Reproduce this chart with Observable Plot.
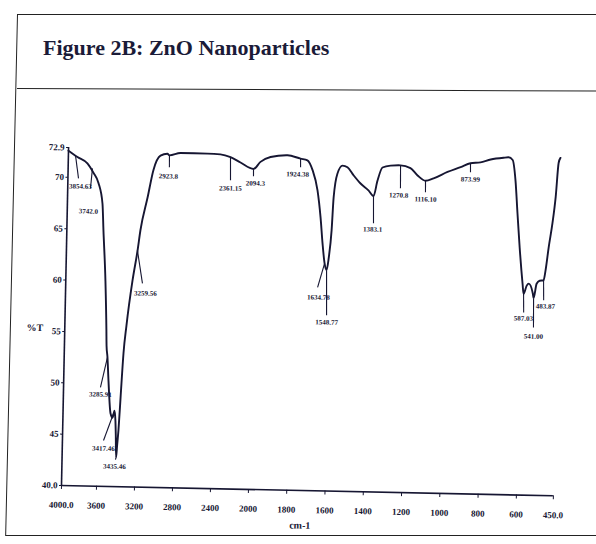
<!DOCTYPE html>
<html><head><meta charset="utf-8">
<script src="https://cdn.jsdelivr.net/npm/d3@7"></script>
<script src="https://cdn.jsdelivr.net/npm/@observablehq/plot@0.6"></script>
<style>
body{margin:0;background:#fff;}
#page{position:relative;width:596px;height:544px;overflow:hidden;font-family:"Liberation Serif",serif;color:#1b1b38;}
#frame{position:absolute;left:17px;top:14px;width:600px;height:520px;border:1.5px solid #222;transform-origin:0 0;transform:skewX(-1.3deg);}
#sep{position:absolute;left:17px;top:88px;width:600px;border-top:1.5px solid #222;transform-origin:0 0;transform:rotate(0.25deg);}
#title{position:absolute;left:43px;top:37px;font-weight:bold;font-size:22px;line-height:22px;white-space:nowrap;}
#chart{position:absolute;left:0;top:100px;}
</style></head>
<body><div id="page">
<div id="frame"></div><div id="sep"></div>
<div id="title">Figure 2B: ZnO Nanoparticles</div>
<div id="chart"></div>
</div>
<script>
// x axis tick values and labels
const xTicks = [4000, 3600, 3200, 2800, 2400, 2000, 1800, 1600, 1400, 1200, 1000, 800, 600, 450];
const xTickLabels = ["4000.0","3600","3200","2800","2400","2000","1800","1600","1400","1200","1000","800","600","450.0"];
// y axis tick values and labels
const yTicks = [40, 45, 50, 55, 60, 65, 70, 72.9];
const yTickLabels = ["40.0","45","50","55","60","65","70","72.9"];

// spectrum: wavenumber (cm-1) and transmittance (%T)
const wavenumber = [4000,3896,3781,3710,3649,3599,3583,3551,3530,3525,3513,3497,3468,3446,3427,3415,3408,3400,3392,3381,3366,3345,3320,3266,3220,3194,3126,3070,2999,2926,2905,2789,2505,2368,2262,2156,2017,1973,1921,1832,1764,1728,1700,1672,1653,1640,1627,1616,1606,1594,1587,1570,1544,1518,1486,1448,1406,1379,1360,1335,1293,1241,1189,1151,1109,1067,995,927,876,824,771,704,678,656,639,625,610,593,588,576,568,551,547,536,524,508,501,490,477,466,457,450];
const transmittance = [72.6,72.0,71.4,70.5,69.5,67.5,64.9,60.0,55.2,53.7,52.6,50.3,47.1,46.7,47.4,46.4,45.0,42.85,44.0,45.5,48.7,53.0,55.7,60.1,63.0,65.0,68.2,70.9,72.3,72.5,72.35,72.6,72.6,72.55,72.3,71.8,71.2,71.9,72.4,72.6,72.3,72.15,71.2,69.25,66.6,64.1,62.15,61.5,62.7,65.4,68.6,70.9,71.7,71.55,70.8,70.0,69.35,68.8,70.3,71.6,71.8,71.85,71.6,70.9,70.4,70.65,71.3,71.8,72.2,72.3,72.6,72.8,72.85,72.6,70.6,67.4,64.1,60.6,59.6,60.4,60.6,59.7,59.2,60.6,60.9,60.95,61.9,64.2,66.5,69.1,72.4,72.9];

// peak annotations: peak point, leader end, label anchor (all in wavenumber / %T)
const peakLabel = ["3854.63","3742.0","3285.91","3417.46","3435.46","3259.56","2923.8","2361.15","2094.3","1924.38","1634.78","1548.77","1383.1","1270.8","1116.10","873.99","587.03","541.00","483.87"];
const peakWn    = [3919,3722,3513,3437,3401,3221,2905,2262,2017,1764,1627,1616,1379,1241,1109,876,588,547,508];
const peakT     = [72.16,70.93,52.56,47.12,42.85,63.04,72.35,72.28,71.16,72.33,62.15,61.48,68.78,71.85,70.44,72.19,59.64,59.17,60.95];
const leadWn    = [3879,3740,3580,3536,3406,3161,2903,2257,2016,1763,1661,1611,1376,1239,1108,875,586,545,506];
const leadT     = [69.93,68.98,49.62,44.47,42.64,59.83,71.19,70.04,70.48,71.45,59.8,57.1,66.15,69.61,69.27,71.31,57.79,56.35,59.0];
const labelWn   = [3855,3757,3578,3535,3415,3127,2911,2255,1997,1778,1655,1610,1380,1248,1107,874,586,544,498];
const labelT    = [69.15,66.74,48.94,43.69,41.96,58.87,70.31,69.26,69.8,70.77,58.83,56.42,65.56,68.93,68.59,70.63,57.2,55.47,58.42];

const spectrum = wavenumber.map((w, i) => ({wn: w, t: transmittance[i]}));
const peaks = peakLabel.map((s, i) => ({label: s, wn: peakWn[i], t: peakT[i], ewn: leadWn[i], et: leadT[i], lwn: labelWn[i], lt: labelT[i]}));
const xLab = new Map(xTicks.map((v, i) => [v, xTickLabels[i]]));
const yLab = new Map(yTicks.map((v, i) => [v, yTickLabels[i]]));

const ink = "#161632";
const chart = Plot.plot({
  width: 596, height: 440,
  marginLeft: 61, marginRight: 43, marginTop: 47, marginBottom: 55,
  style: {background: "transparent", fontFamily: "'Liberation Serif', serif", color: ink, overflow: "visible"},
  x: {type: "linear", domain: [4000, 3600, 2000, 600, 450], range: [61, 96, 248, 516, 553]},
  y: {type: "linear", domain: [40, 72.9], range: [385, 47]},
  marks: [
    Plot.ruleX([4000], {y1: 40, y2: 72.9, stroke: ink, strokeWidth: 1.6}),
    Plot.ruleY([40], {x1: 4000, x2: 450, stroke: ink, strokeWidth: 1.6}),
    Plot.axisX({ticks: xTicks, tickFormat: d => xLab.get(d), tickSize: 4, tickPadding: 12, fontSize: 9, fontWeight: "bold", label: null, stroke: ink}),
    Plot.axisY({ticks: yTicks, tickFormat: d => yLab.get(d), tickSize: 2, tickPadding: 2, fontSize: 9, fontWeight: "bold", label: null, stroke: ink}),
    Plot.text(["%T"], {x: 4000, y: 55.3, dx: -30, text: d => d, fontSize: 10, fontWeight: "bold", fill: ink}),
    Plot.text(["cm-1"], {x: 1728, y: 40, dy: 35, text: d => d, fontSize: 10, fontWeight: "bold", fill: ink}),
    Plot.link(peaks, {x1: "wn", y1: "t", x2: "ewn", y2: "et", stroke: ink, strokeWidth: 1.1}),
    Plot.text(peaks, {x: "lwn", y: "lt", text: "label", fontSize: 7, fontWeight: "bold", fill: ink}),
    Plot.line(spectrum, {x: "wn", y: "t", curve: "monotone-x", stroke: ink, strokeWidth: 1.9})
  ]
});
chart.style.transformOrigin = "61px 385px";
chart.style.transform = "rotate(1.2deg)";
document.getElementById("chart").appendChild(chart);
</script>
</body></html>
